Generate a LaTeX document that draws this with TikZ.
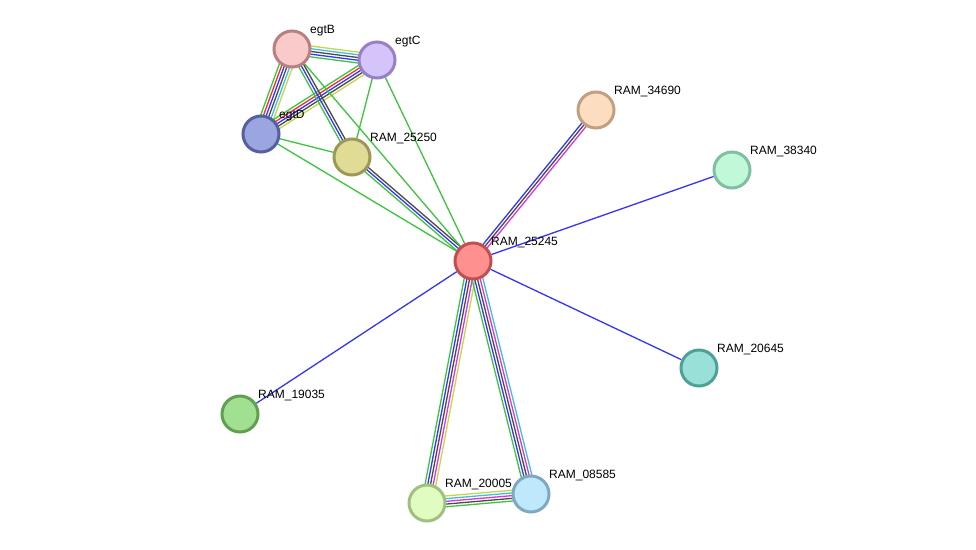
\documentclass[tikz,border=0pt]{standalone}
\usepackage{fontspec}
\setmainfont{Liberation Sans}
\usetikzlibrary{calc,backgrounds}
\definecolor{eGreen}{HTML}{3DC43D}
\definecolor{eBlue}{HTML}{3535F5}
\definecolor{eBlack}{HTML}{4A4A4A}
\definecolor{eMag}{HTML}{D935D9}
\definecolor{eYel}{HTML}{C6D64A}
\definecolor{eCyan}{HTML}{3DC0E0}
\definecolor{eRed}{HTML}{F03030}
\newcommand{\edgebundle}[3]{%
  \foreach \cc/\oo in {#3}{%
    \draw[edgeline,\cc] ($(#1)!\oo pt!90:(#2)$) -- ($(#2)!\oo pt!-90:(#1)$);}}
\tikzset{
  prot/.style={circle,minimum size=36pt,inner sep=0pt,line width=3pt},
  lbl/.style={anchor=base west,font=\fontsize{12}{14}\selectfont,text=black,inner sep=0pt},
  edgeline/.style={line width=1.3pt}
}
\begin{document}
\begin{tikzpicture}[x=1pt,y=-1pt]
\useasboundingbox (0,0) rectangle (976,549);
% proteins
\node[prot,fill={rgb,255:red,248;green,202;blue,202},draw={rgb,255:red,184;green,128;blue,128}] (egtB) at (292,49) {};
\node[prot,fill={rgb,255:red,212;green,196;blue,250},draw={rgb,255:red,152;green,128;blue,200}] (egtC) at (377,60) {};
\node[prot,fill={rgb,255:red,155;green,166;blue,224},draw={rgb,255:red,85;green,96;blue,160}] (egtD) at (261,134) {};
\node[prot,fill={rgb,255:red,224;green,220;blue,150},draw={rgb,255:red,156;green,152;blue,88}] (R25250) at (352,157) {};
\node[prot,fill={rgb,255:red,255;green,144;blue,144},draw={rgb,255:red,192;green,80;blue,80}] (R25245) at (473,261) {};
\node[prot,fill={rgb,255:red,253;green,221;blue,192},draw={rgb,255:red,192;green,160;blue,128}] (R34690) at (596,110) {};
\node[prot,fill={rgb,255:red,192;green,248;blue,216},draw={rgb,255:red,128;green,192;blue,160}] (R38340) at (732,170) {};
\node[prot,fill={rgb,255:red,152;green,224;blue,216},draw={rgb,255:red,80;green,160;blue,152}] (R20645) at (699,368) {};
\node[prot,fill={rgb,255:red,160;green,224;blue,144},draw={rgb,255:red,96;green,160;blue,80}] (R19035) at (240,414) {};
\node[prot,fill={rgb,255:red,224;green,252;blue,192},draw={rgb,255:red,160;green,192;blue,128}] (R20005) at (427,503) {};
\node[prot,fill={rgb,255:red,192;green,232;blue,252},draw={rgb,255:red,128;green,168;blue,192}] (R08585) at (531,494) {};
% labels
\node[lbl] (egtB-l) at ($(egtB)+(18,-16)$) {egtB};
\node[lbl] (egtC-l) at ($(egtC)+(18,-16)$) {egtC};
\node[lbl] (egtD-l) at ($(egtD)+(18,-16)$) {egtD};
\node[lbl] (R25250-l) at ($(R25250)+(18,-16)$) {RAM\_25250};
\node[lbl] (R25245-l) at ($(R25245)+(18,-16)$) {RAM\_25245};
\node[lbl] (R34690-l) at ($(R34690)+(18,-16)$) {RAM\_34690};
\node[lbl] (R38340-l) at ($(R38340)+(18,-16)$) {RAM\_38340};
\node[lbl] (R20645-l) at ($(R20645)+(18,-16)$) {RAM\_20645};
\node[lbl] (R19035-l) at ($(R19035)+(18,-16)$) {RAM\_19035};
\node[lbl] (R20005-l) at ($(R20005)+(18,-16)$) {RAM\_20005};
\node[lbl] (R08585-l) at ($(R08585)+(18,-16)$) {RAM\_08585};
% edges
\begin{pgfonlayer}{background}
\fill[white] (0,0) rectangle (976,549);
\edgebundle{egtB}{egtD}{eGreen/-6.75,eRed/-4.05,eBlue/-1.35,eBlack/1.35,eCyan/4.05,eYel/6.75}
\edgebundle{egtB}{egtC}{eGreen/-5.4,eBlue/-2.7,eBlack/0,eCyan/2.7,eYel/5.4}
\edgebundle{egtC}{egtD}{eGreen/-5.4,eRed/-2.7,eBlue/0,eBlack/2.7,eYel/5.4}
\edgebundle{egtB}{R25250}{eGreen/-2.7,eBlue/0,eBlack/2.7}
\edgebundle{R25250}{R25245}{eGreen/-2.7,eBlue/0,eBlack/2.7}
\edgebundle{R25245}{R34690}{eMag/-2.7,eBlack/0,eBlue/2.7}
\edgebundle{R25245}{R20005}{eGreen/-5.4,eBlue/-2.7,eBlack/0,eMag/2.7,eYel/5.4}
\edgebundle{R25245}{R08585}{eGreen/-5.4,eBlue/-2.7,eBlack/0,eMag/2.7,eCyan/5.4}
\edgebundle{R20005}{R08585}{eGreen/-5.4,eBlack/-2.7,eMag/0,eCyan/2.7,eYel/5.4}
\draw[edgeline,eGreen] (egtB) -- (R25245);
\draw[edgeline,eGreen] (egtC) -- (R25245);
\draw[edgeline,eGreen] (egtC) -- (R25250);
\draw[edgeline,eGreen] (egtD) -- (R25250);
\draw[edgeline,eGreen] (egtD) -- (R25245);
\draw[edgeline,eBlue] (R25245) -- (R38340);
\draw[edgeline,eBlue] (R25245) -- (R20645);
\draw[edgeline,eBlue] (R25245) -- (R19035);
\end{pgfonlayer}
\end{tikzpicture}
\end{document}
